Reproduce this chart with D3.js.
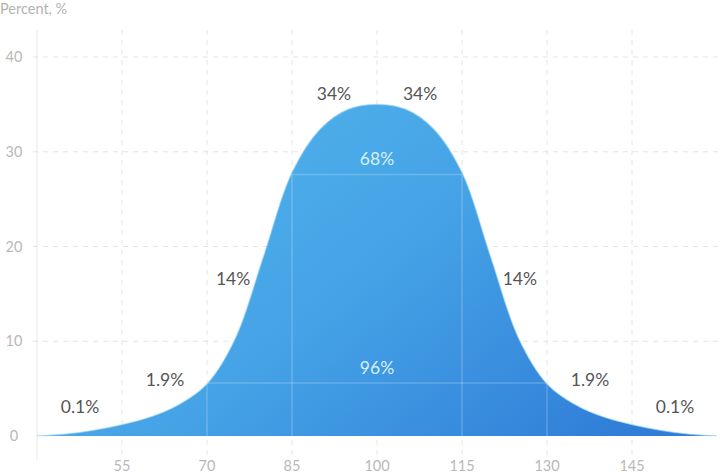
<!DOCTYPE html>
<html>
<head>
<meta charset="utf-8">
<script src="https://cdn.jsdelivr.net/npm/d3@7"></script>
<style>
  body { margin: 0; background: #fff; }
  text { font-family: Lato, "Open Sans", sans-serif; }
</style>
</head>
<body>
<script>
// curve (x = score, y = percent)
var scores = [40, 45, 50, 55, 60, 65, 70, 75, 80, 85, 90, 95, 100, 105, 110, 115, 120, 125, 130, 135, 140, 145, 150, 155, 160];
var percents = [0, 0.2, 0.6, 1.2, 2.0, 3.3, 5.5, 10.3, 19.0, 27.8, 32.4, 34.5, 35.0, 34.5, 32.4, 27.8, 19.0, 10.3, 5.5, 3.3, 2.0, 1.2, 0.6, 0.2, 0];

var xTicks = [55, 70, 85, 100, 115, 130, 145];
var yTicks = [0, 10, 20, 30, 40];

// sigma bands: [from, to, height]
var bands = [[85, 115, 27.6], [70, 130, 5.6]];

var labelText = ["0.1%", "1.9%", "14%", "34%", "34%", "68%", "96%", "14%", "1.9%", "0.1%"];
var labelX = [47.6, 62.6, 74.6, 92.4, 107.6, 100, 100, 125.2, 137.6, 152.6];
var labelY = [3.1, 5.9, 16.6, 36.1, 36.1, 29.2, 7.2, 16.6, 5.9, 3.1];
var labelInside = [false, false, false, false, false, true, true, false, false, false];

var width = 720, height = 474;

var x = d3.scaleLinear().domain([40, 160]).range([37, 717]);
var y = d3.scaleLinear().domain([0, 40]).range([436, 57]);

var svg = d3.select("body").append("svg")
    .attr("width", width)
    .attr("height", height);

var defs = svg.append("defs");
var grad = defs.append("linearGradient")
    .attr("id", "fillGrad")
    .attr("x1", "0").attr("y1", "0.2")
    .attr("x2", "1").attr("y2", "0.8");
grad.append("stop").attr("offset", "0%").attr("stop-color", "#52b6ec");
grad.append("stop").attr("offset", "50%").attr("stop-color", "#45a2e6");
grad.append("stop").attr("offset", "100%").attr("stop-color", "#2f7dd7");

// axis title
svg.append("text")
    .attr("x", 0).attr("y", 14)
    .attr("fill", "#b3b3b3")
    .attr("font-size", 14.5)
    .text("Percent, %");

// y axis line
svg.append("line")
    .attr("x1", 37).attr("x2", 37)
    .attr("y1", 30).attr("y2", 460)
    .attr("stroke", "#e8e8e8");

// horizontal dashed grid
svg.selectAll(".hgrid")
    .data(yTicks.slice(1))
    .enter().append("line")
    .attr("class", "hgrid")
    .attr("x1", 33).attr("x2", width)
    .attr("y1", function (d) { return y(d); })
    .attr("y2", function (d) { return y(d); })
    .attr("stroke", "#e4e4e4")
    .attr("stroke-dasharray", "5,5");

// vertical dashed grid
svg.selectAll(".vgrid")
    .data(xTicks)
    .enter().append("line")
    .attr("class", "vgrid")
    .attr("x1", function (d) { return x(d); })
    .attr("x2", function (d) { return x(d); })
    .attr("y1", 30).attr("y2", 458)
    .attr("stroke", "#e4e4e4")
    .attr("stroke-dasharray", "5,5");

// y tick labels
svg.selectAll(".ylab")
    .data(yTicks)
    .enter().append("text")
    .attr("class", "ylab")
    .attr("x", 14)
    .attr("y", function (d) { return y(d); })
    .attr("dy", "0.35em")
    .attr("text-anchor", "middle")
    .attr("fill", "#b8b8b8")
    .attr("font-size", 14.5)
    .text(function (d) { return d; });

// x tick labels
svg.selectAll(".xlab")
    .data(xTicks)
    .enter().append("text")
    .attr("class", "xlab")
    .attr("x", function (d) { return x(d); })
    .attr("y", 466)
    .attr("dy", "0.35em")
    .attr("text-anchor", "middle")
    .attr("fill", "#b8b8b8")
    .attr("font-size", 14.5)
    .text(function (d) { return d; });

var pts = scores.map(function (s, i) { return [s, percents[i]]; });

var area = d3.area()
    .x(function (d) { return x(d[0]); })
    .y0(y(0))
    .y1(function (d) { return y(d[1]); })
    .curve(d3.curveCatmullRom.alpha(0.5));

var line = d3.line()
    .x(function (d) { return x(d[0]); })
    .y(function (d) { return y(d[1]); })
    .curve(d3.curveCatmullRom.alpha(0.5));

defs.append("clipPath").attr("id", "curveClip")
    .append("path").attr("d", area(pts));

svg.append("path")
    .attr("d", area(pts))
    .attr("fill", "url(#fillGrad)");

svg.append("path")
    .attr("d", line(pts))
    .attr("fill", "none")
    .attr("stroke", "#9bd6f6")
    .attr("stroke-opacity", 0.6)
    .attr("stroke-width", 1.2);

// sigma band lines
var bandG = svg.append("g").attr("clip-path", "url(#curveClip)");
bands.forEach(function (b) {
    bandG.append("line")
        .attr("x1", x(b[0])).attr("x2", x(b[1]))
        .attr("y1", y(b[2])).attr("y2", y(b[2]))
        .attr("stroke", "rgba(255,255,255,0.2)")
        .attr("stroke-width", 1.5);
    [b[0], b[1]].forEach(function (v) {
        bandG.append("line")
            .attr("x1", x(v)).attr("x2", x(v))
            .attr("y1", y(0)).attr("y2", y(b[2]))
            .attr("stroke", "rgba(255,255,255,0.2)")
            .attr("stroke-width", 1.5);
    });
});

// percent labels
svg.selectAll(".plab")
    .data(labelText)
    .enter().append("text")
    .attr("class", "plab")
    .attr("x", function (d, i) { return x(labelX[i]); })
    .attr("y", function (d, i) { return y(labelY[i]); })
    .attr("dy", "0.35em")
    .attr("text-anchor", "middle")
    .attr("font-size", 17.5)
    .attr("fill", function (d, i) { return labelInside[i] ? "#d6f0ff" : "#555"; })
    .text(function (d) { return d; });
</script>
</body>
</html>
